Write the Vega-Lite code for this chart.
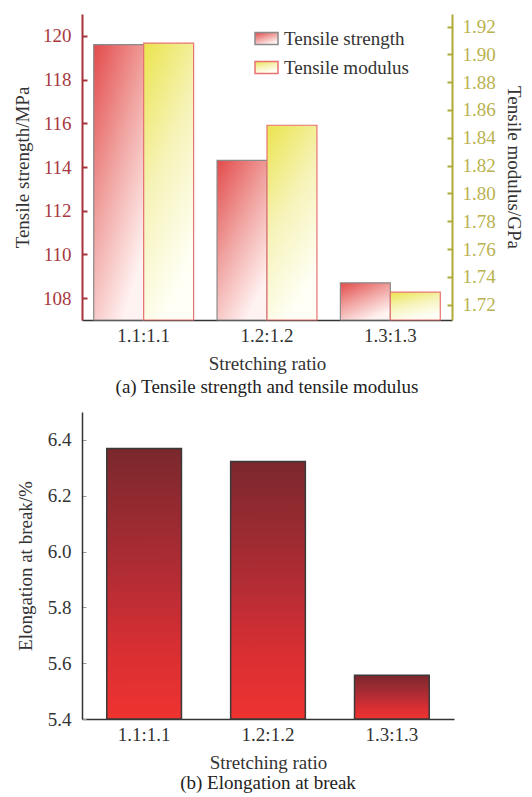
{
  "$schema": "https://vega.github.io/schema/vega-lite/v6.json",
  "background": "white",
  "padding": {"left": 13, "top": 14, "right": 5, "bottom": 0},
  "config": {
    "font": "Liberation Serif",
    "view": {"stroke": null},
    "axis": {
      "grid": false,
      "labelFont": "Liberation Serif",
      "titleFont": "Liberation Serif",
      "labelFontSize": 19,
      "titleFontSize": 19,
      "titleFontWeight": "normal",
      "labelColor": "#333333",
      "titleColor": "#333333",
      "zindex": 1
    },
    "legend": {"labelFont": "Liberation Serif", "labelFontSize": 19, "labelColor": "#333333"},
    "title": {"font": "Liberation Serif", "fontSize": 19, "fontWeight": "normal", "color": "#222222"},
    "concat": {"spacing": 15}
  },
  "datasets": {
    "tensile": [
      {"ratio": "1.1:1.1", "series": "Tensile strength", "value": 119.6},
      {"ratio": "1.2:1.2", "series": "Tensile strength", "value": 114.3},
      {"ratio": "1.3:1.3", "series": "Tensile strength", "value": 108.7},
      {"ratio": "1.1:1.1", "series": "Tensile modulus", "value": 1.908},
      {"ratio": "1.2:1.2", "series": "Tensile modulus", "value": 1.849},
      {"ratio": "1.3:1.3", "series": "Tensile modulus", "value": 1.729}
    ],
    "elong": [
      {"ratio": "1.1:1.1", "value": 6.369},
      {"ratio": "1.2:1.2", "value": 6.323},
      {"ratio": "1.3:1.3", "value": 5.557}
    ]
  },
  "vconcat": [
    {
      "width": 370,
      "height": 306,
      "title": {"text": "(a) Tensile strength and tensile modulus", "orient": "bottom", "offset": 5},
      "data": {"name": "tensile"},
      "encoding": {
        "x": {
          "field": "ratio", "type": "nominal", "sort": null,
          "scale": {"paddingInner": 0.19, "paddingOuter": 0.095},
          "axis": {"title": "Stretching ratio", "labelAngle": 0, "ticks": false, "domainColor": "#333333", "domainWidth": 1.5, "labelPadding": 6, "titlePadding": 9}
        },
        "xOffset": {
          "field": "series", "type": "nominal", "sort": null,
          "scale": {"domain": ["Tensile strength", "Tensile modulus"], "paddingInner": 0, "paddingOuter": 0}
        }
      },
      "layer": [
        {
          "transform": [{"filter": "datum.series === 'Tensile strength'"}],
          "mark": {
            "type": "bar", "strokeWidth": 1.2,
            "fill": {"gradient": "linear", "x1": 0, "y1": 0, "x2": 0.6, "y2": 1, "stops": [{"offset": 0, "color": "#e34b4b"}, {"offset": 0.5, "color": "#f0a3a0"}, {"offset": 1, "color": "#fff3f2"}]}
          },
          "encoding": {
            "y": {
              "field": "value", "type": "quantitative",
              "scale": {"domain": [107, 121], "zero": false, "nice": false},
              "axis": {"title": "Tensile strength/MPa", "orient": "left", "values": [108, 110, 112, 114, 116, 118, 120], "tickSize": -5, "tickWidth": 2, "tickColor": "#a8323a", "domainColor": "#a8323a", "domainWidth": 2, "labelColor": "#a8393f", "labelPadding": 16, "titlePadding": 10}
            },
            "y2": {"datum": 107},
            "stroke": {
              "field": "series", "type": "nominal",
              "scale": {"domain": ["Tensile strength"], "range": ["#8a8a8a"]},
              "legend": {
                "title": null, "orient": "none", "legendX": 172, "legendY": 12,
                "symbolType": "M-1,-0.52H1V0.52H-1Z", "symbolSize": 529, "symbolStrokeWidth": 1.5, "labelOffset": 5,
                "encode": {"symbols": {"update": {"fill": {"value": {"gradient": "linear", "x1": 0, "y1": 0, "x2": 0.6, "y2": 1, "stops": [{"offset": 0, "color": "#e34b4b"}, {"offset": 1, "color": "#fde8e6"}]}}, "fillOpacity": {"value": 1}}}}
              }
            }
          }
        },
        {
          "transform": [{"filter": "datum.series === 'Tensile modulus'"}],
          "mark": {
            "type": "bar", "strokeWidth": 1.2,
            "fill": {"gradient": "linear", "x1": 0, "y1": 0, "x2": 0.4, "y2": 1, "stops": [{"offset": 0, "color": "#ebe44e"}, {"offset": 0.5, "color": "#f6f3b8"}, {"offset": 1, "color": "#fffff6"}]}
          },
          "encoding": {
            "y": {
              "field": "value", "type": "quantitative",
              "scale": {"domain": [1.709, 1.929], "zero": false, "nice": false},
              "axis": {"title": "Tensile modulus/GPa", "orient": "right", "values": [1.72, 1.74, 1.76, 1.78, 1.8, 1.82, 1.84, 1.86, 1.88, 1.9, 1.92], "format": ".2f", "tickSize": -5, "tickWidth": 2, "tickColor": "#b0aa38", "domainColor": "#b0aa38", "domainWidth": 2, "labelColor": "#b9b24e", "labelPadding": 15, "titlePadding": 8}
            },
            "y2": {"datum": 1.709},
            "stroke": {
              "field": "series", "type": "nominal",
              "scale": {"domain": ["Tensile modulus"], "range": ["#e87272"]},
              "legend": {
                "title": null, "orient": "none", "legendX": 172, "legendY": 41,
                "symbolType": "M-1,-0.52H1V0.52H-1Z", "symbolSize": 529, "symbolStrokeWidth": 1.5, "labelOffset": 5,
                "encode": {"symbols": {"update": {"fill": {"value": {"gradient": "linear", "x1": 0, "y1": 0, "x2": 0.4, "y2": 1, "stops": [{"offset": 0, "color": "#ebe44e"}, {"offset": 1, "color": "#fffff0"}]}}, "fillOpacity": {"value": 1}}}}
              }
            }
          }
        }
      ],
      "resolve": {"scale": {"y": "independent", "stroke": "independent"}, "legend": {"stroke": "independent"}}
    },
    {
      "width": 372,
      "height": 307,
      "title": {"text": "(b) Elongation at break", "orient": "bottom", "offset": 2},
      "data": {"name": "elong"},
      "mark": {
        "type": "bar",
        "fill": {"gradient": "linear", "x1": 0, "y1": 0, "x2": 0.001, "y2": 1, "stops": [{"offset": 0, "color": "#7a282d"}, {"offset": 0.45, "color": "#b02c34"}, {"offset": 0.75, "color": "#d92f33"}, {"offset": 1, "color": "#ef3330"}]},
        "stroke": "#3a3a3a",
        "strokeWidth": 1.5
      },
      "encoding": {
        "x": {
          "field": "ratio", "type": "nominal", "sort": null,
          "scale": {"paddingInner": 0.397, "paddingOuter": 0.2},
          "axis": {"title": "Stretching ratio", "labelAngle": 0, "tickSize": -5, "tickColor": "#555555", "domainColor": "#333333", "domainWidth": 1.5, "labelPadding": 11, "titlePadding": 9}
        },
        "y": {
          "field": "value", "type": "quantitative",
          "scale": {"domain": [5.4, 6.5], "zero": false, "nice": false},
          "axis": {"title": "Elongation at break/%", "values": [5.4, 5.6, 5.8, 6.0, 6.2, 6.4], "format": ".1f", "tickSize": -4, "tickColor": "#999999", "domainColor": "#333333", "domainWidth": 1.5, "labelPadding": 15, "titlePadding": 12}
        },
        "y2": {"datum": 5.4}
      }
    }
  ]
}
